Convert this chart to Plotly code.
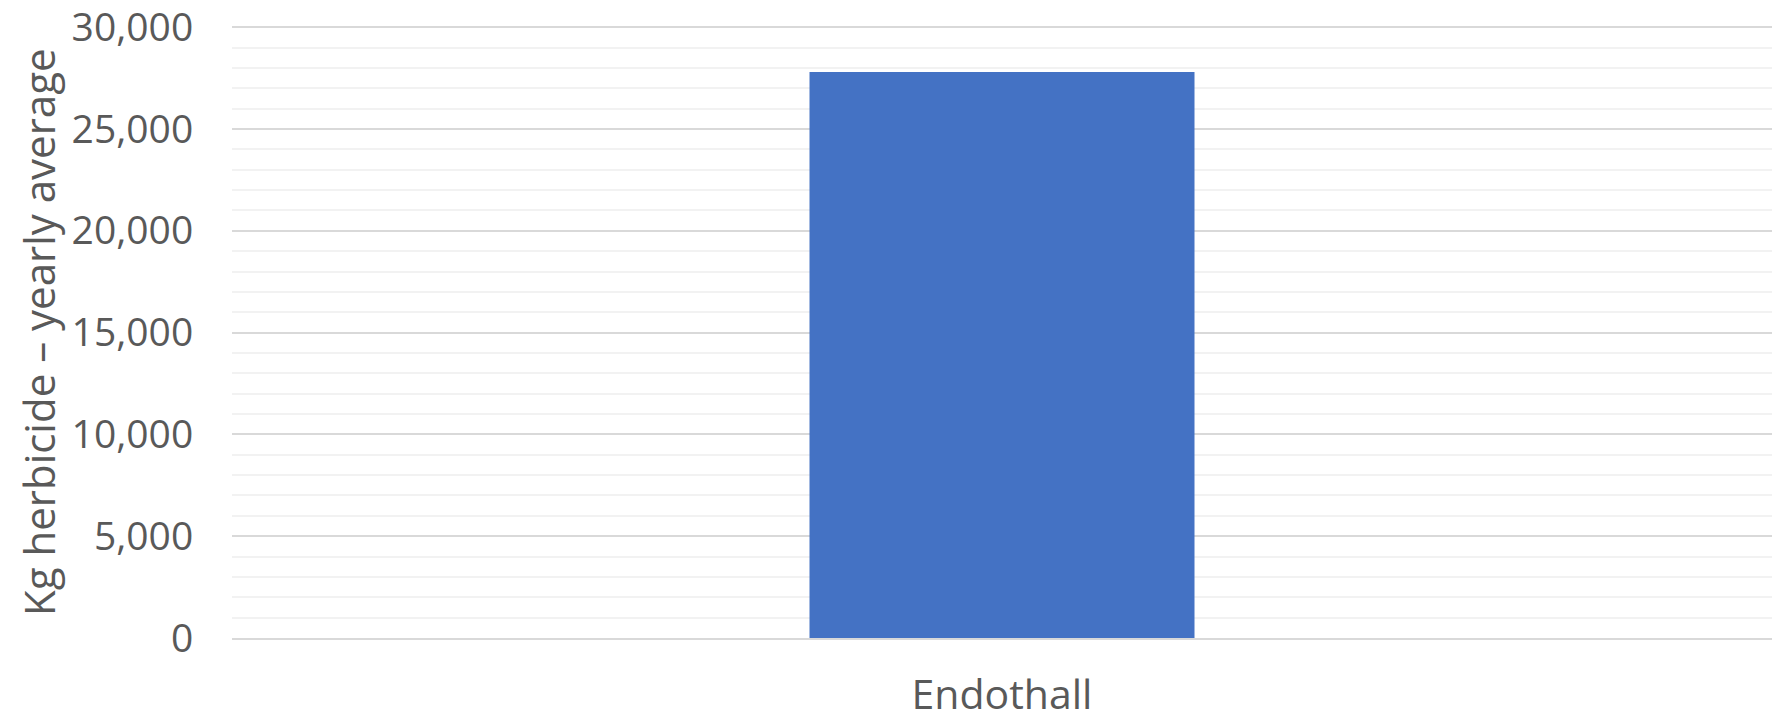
import plotly.graph_objects as go

categories = ["Endothall"]
values = [27800]
y_ticks = [0, 5000, 10000, 15000, 20000, 25000, 30000]
y_title = "Kg herbicide – yearly average"

W, H = 1776, 723
ml, mr, mt, mb = 232, 4, 26, 85
font_family = "Open Sans, DejaVu Sans, sans-serif"
text_color = "#595959"

fig = go.Figure(go.Bar(x=categories, y=values, marker=dict(color="#4472C4", line=dict(width=0))))

fig.update_layout(
    width=W, height=H,
    margin=dict(l=ml, r=mr, t=mt, b=mb, pad=0),
    paper_bgcolor="white", plot_bgcolor="white",
    bargap=0.75,
    showlegend=False,
    font=dict(family=font_family, color=text_color),
)
fig.update_yaxes(
    range=[0, 30060],
    tickvals=y_ticks,
    ticktext=[f"{v:,}" for v in y_ticks],
    tickfont=dict(size=39, color=text_color),
    showgrid=True, gridcolor="#D9D9D9", gridwidth=1.5,
    minor=dict(dtick=1000, showgrid=True, gridcolor="#F2F2F2", gridwidth=1.5),
    zeroline=False, showline=False,
    ticks="outside", ticklen=0, ticklabelstandoff=30,
    ticklabeloverflow="allow",
    automargin=False,
)
fig.update_xaxes(
    tickfont=dict(size=41, color=text_color),
    showline=True, linecolor="#D9D9D9", linewidth=1.5,
    ticks="", ticklabelstandoff=20,
    ticklabeloverflow="allow",
    automargin=False,
)
fig.add_annotation(
    text=y_title, textangle=-90,
    xref="paper", yref="paper",
    x=(38 - ml) / (W - ml - mr), y=0.5,
    xanchor="center", yanchor="middle",
    showarrow=False,
    font=dict(size=42, color=text_color, family=font_family),
)
fig.write_html("out.html")
